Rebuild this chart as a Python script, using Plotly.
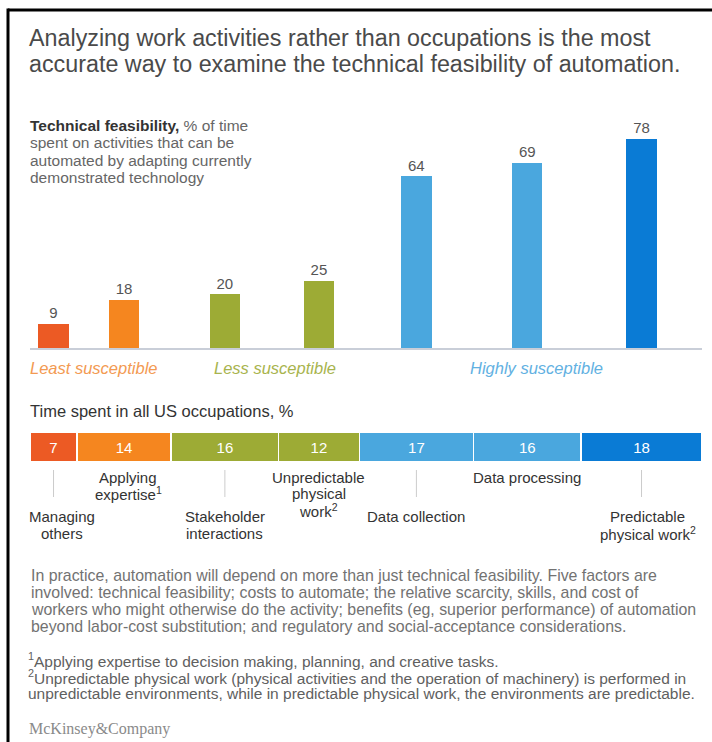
import plotly.graph_objects as go
import numpy as np

# ---------------- data ----------------
activities = ["Managing others", "Applying expertise", "Stakeholder interactions",
              "Unpredictable physical work", "Data collection", "Data processing",
              "Predictable physical work"]
activity_lines = [["Managing", "others"], ["Applying", "expertise<sup>1</sup>"],
                  ["Stakeholder", "interactions"], ["Unpredictable", "physical", "work<sup>2</sup>"],
                  ["Data collection"], ["Data processing"],
                  ["Predictable", "physical work<sup>2</sup>"]]
feasibility = [9, 18, 20, 25, 64, 69, 78]          # % of time automatable
time_share = [7, 14, 16, 12, 17, 16, 18]           # % of time in US occupations
groups = ["Least susceptible", "Less susceptible", "Highly susceptible"]
group_members = [[0, 1], [2, 3], [4, 5, 6]]

title_lines = ["Analyzing work activities rather than occupations is the most",
               "accurate way to examine the technical feasibility of automation."]
subtitle_lines = ["<b><span style='color:#333333'>Technical feasibility,</span></b> % of time",
                  "spent on activities that can be",
                  "automated by adapting currently",
                  "demonstrated technology"]
para_lines = ["In practice, automation will depend on more than just technical feasibility. Five factors are",
              "involved: technical feasibility; costs to automate; the relative scarcity, skills, and cost of",
              "workers who might otherwise do the activity; benefits (eg, superior performance) of automation",
              "beyond labor-cost substitution; and regulatory and social-acceptance considerations."]
note_lines = ["<sup>1</sup>Applying expertise to decision making, planning, and creative tasks.",
              "<sup>2</sup>Unpredictable physical work (physical activities and the operation of machinery) is performed in",
              "unpredictable environments, while in predictable physical work, the environments are predictable."]
source_text = "McKinsey&amp;Company"

# ---------------- styles ----------------
bar_colors = ["#EC5A24", "#F5861F", "#9DAB35", "#9DAB35", "#4AA7DE", "#4AA7DE", "#0A7BD5"]
group_colors = ["#F39A52", "#A8B44E", "#62B1E2"]
group_shift = [5, 3, 8]
label_shift = [8, 4, 0, 0, 0, 0, 6]
FONT = "Liberation Sans"
W, H = 712, 742


def py(p):
    return 1 - p / H


def px(p):
    return p / W


shares = np.array(time_share, dtype=float)
cum = np.cumsum(shares)
centers = cum - shares / 2

fig = go.Figure()

# top chart: technical feasibility bars, placed at centres of the time-share segments
fig.add_trace(go.Bar(
    x=centers, y=feasibility, width=4.5,
    marker=dict(color=bar_colors, line=dict(width=0)),
    text=[str(v) for v in feasibility], textposition="outside",
    textfont=dict(size=16, color="#555555", family=FONT),
    cliponaxis=False, xaxis="x", yaxis="y", hoverinfo="skip"))

# bottom: stacked time-share bar
for i, s in enumerate(time_share):
    fig.add_trace(go.Bar(
        x=[s], y=[0], orientation="h", width=1,
        marker=dict(color=bar_colors[i], line=dict(color="white", width=1.5)),
        text=[str(s)], textposition="inside", insidetextanchor="middle",
        textangle=0, textfont=dict(size=15, color="white", family=FONT),
        xaxis="x2", yaxis="y2", hoverinfo="skip"))

xdom = [px(30), px(702)]
fig.update_layout(
    width=W, height=H, margin=dict(l=0, r=0, t=0, b=0),
    paper_bgcolor="white", plot_bgcolor="white",
    showlegend=False, barmode="stack",
    font=dict(family=FONT, size=14),
    uniformtext=dict(minsize=8, mode="show"),
    xaxis=dict(domain=xdom, range=[0, 100], showline=True, linecolor="#C9CED8",
               linewidth=1.5, showticklabels=False, showgrid=False, zeroline=False,
               ticks="", anchor="y", fixedrange=True),
    yaxis=dict(domain=[py(348), py(106.8)], range=[0, 90], visible=False,
               fixedrange=True),
    xaxis2=dict(domain=xdom, range=[0, 100], visible=False, anchor="y2", fixedrange=True),
    yaxis2=dict(domain=[py(462), py(432)], range=[-0.5, 0.5], visible=False, fixedrange=True),
)

ann = []


def add_lines(lines, x, y0, step, size, color, xref="paper", xanchor="left",
              family=FONT, xshift=0):
    for k, t in enumerate(lines):
        ann.append(dict(xref=xref, yref="paper", x=x, y=py(y0 + k * step),
                        xanchor=xanchor, yanchor="middle", showarrow=False, text=t,
                        xshift=xshift, font=dict(size=size, color=color, family=family)))


# title
add_lines(title_lines, px(27), 38, 26, 23.3, "#4A4A4A")
# chart subtitle
add_lines(subtitle_lines, px(28), 126, 17, 15.5, "#666666")
# group labels
for g, members, c, sh in zip(groups, group_members, group_colors, group_shift):
    gx = float(np.mean(centers[members]))
    add_lines(["<i>" + g + "</i>"], gx, 368, 0, 16.5, c, xref="x", xanchor="center", xshift=sh)
# stacked bar title
add_lines(["Time spent in all US occupations, %"], px(28), 411, 0, 16.5, "#333333")

shapes = []
for i, lines in enumerate(activity_lines):
    if i % 2 == 0:
        shapes.append(dict(type="line", xref="x2", yref="paper", x0=centers[i], x1=centers[i],
                           y0=py(470), y1=py(497), line=dict(color="#CCCCCC", width=1)))
        add_lines(lines, centers[i], 516.5, 17, 15, "#333333", xref="x2",
                  xanchor="center", xshift=label_shift[i])
    else:
        add_lines(lines, centers[i], 477, 17, 15, "#333333", xref="x2",
                  xanchor="center", xshift=label_shift[i])

# paragraph
add_lines(para_lines, px(29), 575, 17, 15.9, "#727272")
# footnotes
add_lines(note_lines, px(26), 660, 16.5, 15.5, "#606060")
# source
ann.append(dict(xref="paper", yref="paper", x=px(27), y=py(740), xanchor="left",
                yanchor="bottom", showarrow=False, text=source_text,
                font=dict(size=16, color="#8A8A8A", family="Liberation Serif")))

# frame
shapes.append(dict(type="line", xref="paper", yref="paper", x0=px(8), x1=1.0,
                   y0=py(10), y1=py(10), line=dict(color="black", width=3)))
shapes.append(dict(type="line", xref="paper", yref="paper", x0=px(8), x1=px(8),
                   y0=py(8.5), y1=0, line=dict(color="black", width=3)))

fig.update_layout(annotations=ann, shapes=shapes)
fig.write_html("out.html", config={"displayModeBar": False},
               post_script="document.body.style.margin='0px';document.body.style.overflow='hidden';")
